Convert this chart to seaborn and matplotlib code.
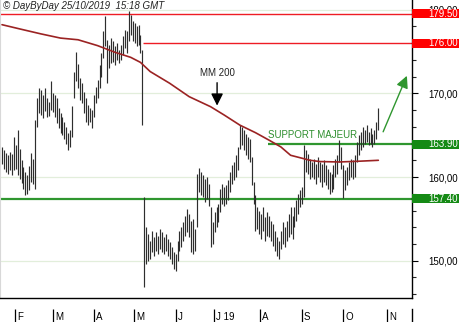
import numpy as np
import pandas as pd
import matplotlib
matplotlib.use("Agg")
import matplotlib.pyplot as plt
import seaborn as sns
from matplotlib.patches import Rectangle
import matplotlib.transforms as mtransforms

# ---------------- data ----------------
highs = [163.6, 163.2, 162.9, 162.6, 163.0, 162.8, 164.8, 163.8, 165.6, 163.4,
         162.0, 161.2, 160.6, 160.3, 161.3, 162.9, 162.2, 166.8, 169.4, 170.6,
         170.4, 169.8, 170.6, 169.4, 169.0, 171.5, 170.0, 169.8, 169.5, 168.2,
         167.6, 167.2, 166.6, 166.0, 165.3, 165.6, 168.5, 172.5, 174.9, 173.5,
         171.8, 171.2, 170.2, 169.4, 168.6, 168.2, 168.0, 169.8, 170.8, 171.6,
         173.4, 174.8, 177.4, 179.2, 176.4, 175.8, 176.6, 176.2, 175.6, 176.0,
         175.2, 175.8, 176.8, 177.6, 177.4, 179.8, 179.4, 178.6, 178.4, 178.0,
         178.2, 177.0, 175.2, 157.6, 154.0, 153.2, 152.4, 153.6, 152.8, 153.4,
         153.0, 153.8, 153.4, 152.8, 153.2, 152.6, 152.2, 151.6, 151.0, 150.8,
         152.4, 153.6, 154.0, 154.6, 155.4, 156.2, 155.6, 154.8, 155.0, 153.8,
         160.4, 161.1, 160.6, 160.2, 159.8, 160.0, 159.2, 156.4, 154.6, 155.8,
         156.4, 156.8, 158.6, 159.2, 158.8, 159.0, 159.6, 160.6, 161.4, 161.8,
         162.6, 163.6, 166.2, 166.0, 165.6, 165.2, 164.8, 164.6, 162.4, 159.4,
         157.8, 156.4, 156.0, 155.6, 156.4, 155.2, 155.8, 155.4, 154.8, 154.4,
         153.6, 152.8, 152.4, 153.6, 154.6, 154.0, 154.8, 155.6, 156.4, 155.4,
         156.4, 157.2, 158.0, 158.4, 158.8, 163.8, 163.2, 162.8, 162.2, 161.8,
         162.2, 161.6, 162.4, 161.8, 161.6, 162.0, 161.4, 161.0, 160.6, 160.4,
         161.4, 162.2, 162.6, 164.4, 163.6, 161.4, 160.8, 161.2, 161.8, 162.2,
         162.0, 162.6, 164.2, 165.0, 165.4, 166.0, 165.6, 166.2, 165.4, 165.8,
         165.2, 165.6, 166.6, 168.2]
lows = [161.5, 161.0, 160.6, 160.4, 160.8, 160.3, 160.9, 161.0, 160.2, 159.8,
        159.3, 158.6, 157.9, 158.0, 158.5, 159.4, 159.2, 158.6, 166.0, 167.6,
        167.4, 167.0, 167.9, 167.2, 167.3, 168.0, 167.8, 167.2, 166.5, 165.8,
        165.3, 165.0, 164.5, 164.0, 163.2, 163.6, 164.8, 169.5, 171.5, 170.6,
        169.2, 168.8, 167.6, 166.6, 166.2, 166.6, 165.9, 167.2, 168.8, 169.4,
        170.6, 172.0, 174.2, 175.6, 171.2, 173.0, 173.6, 173.8, 173.4, 174.0,
        173.6, 174.0, 174.6, 175.4, 174.8, 176.2, 177.0, 176.2, 176.0, 175.6,
        175.8, 174.8, 166.2, 146.9, 149.6, 150.0, 150.2, 151.0, 150.6, 151.2,
        150.8, 151.4, 151.0, 150.8, 151.2, 150.6, 150.2, 149.6, 149.0, 148.8,
        150.0, 151.2, 151.6, 152.4, 153.0, 153.4, 152.8, 151.0, 150.8, 151.2,
        154.0, 158.2, 157.8, 157.6, 157.0, 157.4, 156.6, 151.6, 152.0, 153.4,
        154.0, 154.6, 155.8, 156.8, 156.6, 156.8, 157.2, 158.2, 159.2, 159.6,
        160.0, 160.8, 163.4, 163.8, 163.2, 162.6, 162.2, 161.8, 159.0, 156.8,
        153.6, 153.8, 153.2, 152.6, 153.6, 152.4, 153.0, 152.8, 152.4, 151.8,
        151.2, 150.6, 150.2, 151.4, 152.0, 151.6, 152.4, 152.8, 153.2, 152.6,
        154.0, 154.8, 155.6, 156.4, 156.8, 157.6, 160.6, 160.4, 159.8, 160.0,
        159.8, 159.2, 160.0, 159.4, 158.8, 159.4, 159.0, 158.6, 158.0, 158.2,
        158.6, 160.0, 160.4, 161.8, 161.0, 157.5, 158.4, 159.0, 159.6, 160.0,
        159.8, 160.0, 161.8, 162.6, 163.2, 163.6, 164.0, 164.2, 163.8, 164.0,
        163.6, 164.0, 164.6, 165.6]

ma_day = [0, 9, 20, 30, 39, 49, 58, 66, 71, 76, 86, 96, 107, 114, 122, 130,
          137, 143, 148, 153, 158, 163, 173, 184, 193]
ma_val = [178.2, 177.7, 177.1, 176.6, 176.4, 175.7, 174.9, 174.3, 173.7, 172.6,
          171.2, 169.6, 168.4, 167.4, 166.2, 165.3, 164.4, 163.6, 162.6, 162.3,
          162.0, 161.85, 161.8, 161.9, 162.0]

month_labels = ["F", "M", "A", "M", "J", "J 19", "A", "S", "O", "N"]
month_pos = [6.7, 26.2, 47.2, 67.7, 89.2, 108.7, 132.3, 153.8, 174.9, 197.4]

resist_levels = [179.50, 176.00]
support_levels = [163.90, 157.40]
y_ticks = [150, 160, 170, 180]

# ---------------- style ----------------
sns.set_theme(style="white")
plt.rcParams["font.family"] = ["Liberation Sans", "DejaVu Sans"]

W, H = 460, 322
fig = plt.figure(figsize=(W / 100, H / 100), dpi=100)
ax = fig.add_axes([0, 24 / H, 412 / W, 298 / H])
ax2 = fig.add_axes([0, 0, 412 / W, 13 / H])

XMIN, XMAX = -1.03, 210.26
YMIN, YMAX = 145.55, 181.15
ax.set_xlim(XMIN, XMAX)
ax.set_ylim(YMIN, YMAX)

# grid
for t in y_ticks:
    ax.axhline(t, color="#e2eedb", lw=0.9, zorder=0)

# bars
idx = np.arange(len(highs))
df = pd.DataFrame({"day": idx, "high": highs, "low": lows})
ax.vlines(df["day"], df["low"], df["high"], color="#2e2e2e", lw=0.85, zorder=3)

# MA 200
ma = pd.DataFrame({"day": ma_day, "ma": ma_val})
sns.lineplot(data=ma, x="day", y="ma", ax=ax, color="#9b2323", lw=1.2, zorder=4)

# horizontal levels
ax.hlines(resist_levels[0], XMIN, XMAX, color="#ee1c24", lw=1.0, zorder=2)
ax.hlines(resist_levels[1], 72.3, XMAX, color="#ee1c24", lw=1.0, zorder=2)
ax.hlines(support_levels[0], 136.4, XMAX, color="#2f962f", lw=1.6, zorder=2)
ax.hlines(support_levels[1], XMIN, XMAX, color="#2f962f", lw=1.6, zorder=2)

# right boxes
trans = mtransforms.blended_transform_factory(ax.transAxes, ax.transData)
bh = 9 / 8.37
for lvl, col in [(resist_levels[0], "#ff0000"), (resist_levels[1], "#ff0000"),
                 (support_levels[0], "#158a15"), (support_levels[1], "#158a15")]:
    r = Rectangle((1.0, lvl - bh / 2), 48 / 412, bh, transform=trans,
                  facecolor=col, edgecolor="none", clip_on=False, zorder=10)
    ax.add_patch(r)
    ax.text(458 / 412, lvl, f"{lvl:.2f}", transform=trans, ha="right", va="center",
            color="white", fontsize=7, clip_on=False, zorder=11)

# axes / ticks
ax.yaxis.tick_right()
ax.set_yticks(y_ticks)
ax.set_yticklabels([f"{t:.2f}".replace(".", ",") for t in y_ticks])
ax.set_yticks(np.arange(146, 182, 2), minor=True)
ax.tick_params(axis="y", which="major", right=True, length=4, width=0.8,
               pad=8, labelsize=7, colors="black")
ax.tick_params(axis="y", which="minor", right=True, length=3, width=0.8)
ax.set_xticks([])
ax.set_xlabel("")
ax.set_ylabel("")
ax.spines["top"].set_visible(False)
ax.spines["right"].set_color("black")
ax.spines["right"].set_linewidth(1.0)
ax.spines["bottom"].set_color("black")
ax.spines["bottom"].set_linewidth(1.0)
ax.spines["left"].set_color("#d8d8d8")
ax.spines["left"].set_linewidth(0.8)

# annotations
ax.text(0.007, 0.995, "© DayByDay 25/10/2019  15:18 GMT", transform=ax.transAxes,
        ha="left", va="top", fontsize=7, style="italic", color="#222222")
ax.annotate("", xy=(110.3, 168.2), xytext=(110.3, 171.6),
            arrowprops=dict(arrowstyle="-|>,head_width=0.3,head_length=0.6",
                            color="black", lw=1.0), zorder=6)
ax.text(110.3, 171.8, "MM 200", ha="center", va="bottom", fontsize=7, color="#222222")
ax.text(136.4, 164.45, "SUPPORT MAJEUR", ha="left", va="bottom", fontsize=7,
        color="#2f8f2f")
ax.annotate("", xy=(208.2, 172.4), xytext=(194.9, 165.1),
            arrowprops=dict(arrowstyle="-|>,head_width=0.3,head_length=0.6",
                            color="#2f962f", lw=1.0), zorder=6)

# date strip
ax2.set_xlim(XMIN, XMAX)
ax2.set_ylim(0, 1)
ax2.vlines(month_pos, 0, 1, color="black", lw=0.9)
for p, lab in zip(month_pos, month_labels):
    ax2.text(p + 1.1, 0.38, lab, ha="left", va="center", fontsize=7, color="black")
ax2.set_xticks([])
ax2.set_yticks([])
for s in ["top", "left", "bottom"]:
    ax2.spines[s].set_visible(False)
ax2.spines["right"].set_color("black")
ax2.spines["right"].set_linewidth(1.0)
ax2.patch.set_alpha(0)

fig.savefig("out.png", dpi=100)
